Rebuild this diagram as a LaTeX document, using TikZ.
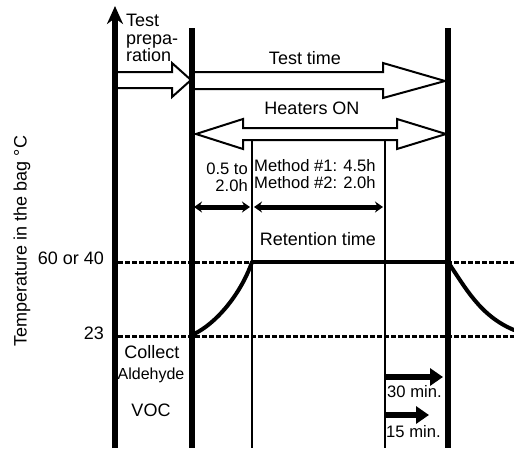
\documentclass[tikz,border=0pt]{standalone}
\usepackage{fontspec}
\setmainfont{Liberation Sans}
\usetikzlibrary{arrows.meta}
\begin{document}
\begin{tikzpicture}[x=1pt,y=-1pt,
  lbl/.style={inner sep=0pt,font=\fontsize{18}{17.5}\selectfont},
  small/.style={font=\fontsize{16.6}{17}\selectfont},
  thickv/.style={line width=5.5pt},
  thinv/.style={line width=2pt},
  dotline/.style={line width=3pt,dash pattern=on 5pt off 2pt},
  blockarrow/.style={draw=black,fill=white,line width=2pt,line join=miter},
  durbar/.style={line width=5pt,-{Stealth[length=8pt,width=11pt]}},
  durboth/.style={line width=5pt,{Stealth[length=8pt,width=11pt]}-{Stealth[length=8pt,width=11pt]}},
  curvestyle/.style={line width=4pt,line cap=round}]
\useasboundingbox (0,0) rectangle (514,448);
% named coordinates
\coordinate (axb) at (115,448);
\coordinate (axt) at (115,6);
\coordinate (v1t) at (192,28);
\coordinate (v1b) at (192,448);
\coordinate (v2t) at (252,140);
\coordinate (v2b) at (252,448);
\coordinate (v3t) at (385,140);
\coordinate (v3b) at (385,448);
\coordinate (v4t) at (448,28);
\coordinate (v4b) at (448,448);
\coordinate (hiL) at (118,262);
\coordinate (hiR) at (514,262);
\coordinate (loL) at (118,336);
\coordinate (loR) at (514,336);
\coordinate (plateauL) at (252,262);
\coordinate (plateauR) at (448,262);
\coordinate (riseS) at (194,334);
\coordinate (fallE) at (514,330);
% dotted levels
\draw[dotline] (hiL) -- (hiR);
\draw[dotline] (loL) -- (loR);
% axis
\draw[line width=5.5pt,-{Stealth[length=18pt,width=16pt]}] (axb) -- (axt);
% verticals
\draw[thickv] (v1t) -- (v1b);
\draw[thickv] (v4t) -- (v4b);
\draw[thinv] (v2t) -- (v2b);
\draw[thinv] (v3t) -- (v3b);
% temperature profile
\draw[line width=4pt] (plateauL) -- (plateauR);
\draw[curvestyle] (riseS) .. controls (215,324) and (240,296) .. (plateauL);
\draw[curvestyle] (plateauR) .. controls (465,287) and (480,316) .. (fallE);
% block arrows
\draw[blockarrow] (118,72) -- (172,72) -- (172,63) -- (191,80) -- (172,97) -- (172,88) -- (118,88);
\draw[blockarrow] (195,72) -- (383,72) -- (383,63) -- (445,81) -- (383,98) -- (383,89) -- (195,89);
\draw[blockarrow] (243,128) -- (397,128) -- (397,119) -- (446,134) -- (397,149) -- (397,140) -- (243,140) -- (243,149) -- (196,134) -- (243,119) -- cycle;
% duration arrows
\coordinate (d1a) at (194,207);
\coordinate (d1b) at (250,207);
\coordinate (d2a) at (254,207);
\coordinate (d2b) at (383,207);
\draw[durboth] (d1a) -- (d1b);
\draw[durboth] (d2a) -- (d2b);
\coordinate (m30a) at (386,377);
\coordinate (m30b) at (443,377);
\coordinate (m15a) at (386,415);
\coordinate (m15b) at (429,415);
\draw[durbar,line width=6pt,-{Triangle[length=13pt,width=17pt]}] (m30a) -- (m30b);
\draw[durbar,line width=6pt,-{Triangle[length=13pt,width=17pt]}] (m15a) -- (m15b);
% texts
\node[lbl,rotate=90] (ylab) at (22,241) {Temperature in the bag °C};
\node[lbl,anchor=east] (t60) at (104,258) {60 or 40};
\node[lbl,anchor=east] (t23) at (104,333) {23};
\node[lbl,anchor=west,align=left] (prep) at (126,38) {Test\\prepa-\\ration};
\node[lbl] (ttime) at (305,58) {Test time};
\node[lbl] (heat) at (312,108) {Heaters ON};
\node[lbl,small,anchor=east,align=right] (dur1) at (248,177) {0.5 to\\2.0h};
\node[lbl,small,anchor=west,align=left] (dur2) at (254,174) {Method \#1: 4.5h\\Method \#2: 2.0h};
\node[lbl] (ret) at (318,239) {Retention time};
\node[lbl] (coll) at (152,352) {Collect};
\node[lbl,font=\fontsize{16}{16}\selectfont] (ald) at (151,375) {Aldehyde};
\node[lbl] (voc) at (151,410) {VOC};
\node[lbl,small,anchor=west] (m30) at (387,392) {30 min.};
\node[lbl,small,anchor=west] (m15) at (386,432) {15 min.};
\end{tikzpicture}
\end{document}
